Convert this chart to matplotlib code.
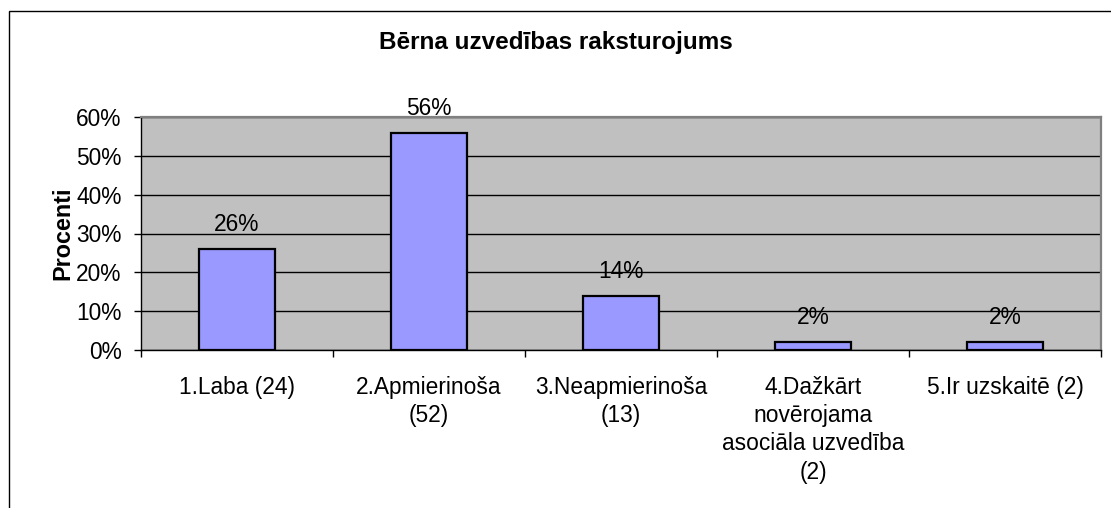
import matplotlib.pyplot as plt
from matplotlib.patches import Rectangle

plt.rcParams['font.family'] = ['Liberation Sans', 'DejaVu Sans']

# Data
categories = ['1.Laba (24)', '2.Apmierinoša\n(52)', '3.Neapmierinoša\n(13)',
              '4.Dažkārt\nnovērojama\nasociāla uzvedība\n(2)', '5.Ir uzskaitē (2)']
values = [26, 56, 14, 2, 2]
yticks = [0, 10, 20, 30, 40, 50, 60]
ytick_labels = ['0%', '10%', '20%', '30%', '40%', '50%', '60%']

FS = 16.4

fig = plt.figure(figsize=(11.11, 5.08), dpi=100)
ax = fig.add_axes([141 / 1111, 1 - 350 / 508, 960 / 1111, 233 / 508])
ax.set_facecolor('#C0C0C0')

x = list(range(len(categories)))
ax.bar(x, values, width=0.4, color='#9999FF', edgecolor='black', linewidth=1.6, zorder=3)

for xi, v in zip(x, values):
    ax.annotate(f'{v}%', (xi, v), xytext=(0, 13), textcoords='offset pixels',
                ha='center', va='bottom', fontsize=FS, zorder=4)

ax.set_xlim(-0.5, len(categories) - 0.5)
ax.set_ylim(0, 60)
ax.set_yticks(yticks)
ax.set_yticklabels(ytick_labels, fontsize=FS)
ax.yaxis.grid(True, color='black', linewidth=1.0, zorder=1)
ax.set_axisbelow(True)

# category labels centred, ticks at boundaries
ax.set_xticks(x)
ax.set_xticklabels(categories, fontsize=FS, linespacing=1.28, va='top')
ax.tick_params(axis='x', length=0, pad=19)
ax.set_xticks([i - 0.5 for i in range(len(categories) + 1)], minor=True)
ax.tick_params(axis='x', which='minor', length=5, width=1, color='black', direction='out')
ax.tick_params(axis='y', length=5, width=1, direction='out', pad=9)

for s in ['top', 'right']:
    ax.spines[s].set_color('#808080')
    ax.spines[s].set_linewidth(1.6)
for s in ['left', 'bottom']:
    ax.spines[s].set_color('black')
    ax.spines[s].set_linewidth(1.0)

fig.text(63 / 1111, 1 - 233 / 508, 'Procenti', rotation=90, ha='center', va='center',
         fontsize=16.8, fontweight='bold')
fig.text(0.5, 1 - 43 / 508, 'Bērna uzvedības raksturojums', ha='center', va='center',
         fontsize=17.5, fontweight='bold')

# outer chart border
fig.patches.append(Rectangle((9 / 1111, -0.1), 1.2, 1 - 11 / 508 + 0.1,
                             transform=fig.transFigure, fill=False,
                             edgecolor='black', linewidth=1.0))

fig.savefig('out.png', dpi=100)
